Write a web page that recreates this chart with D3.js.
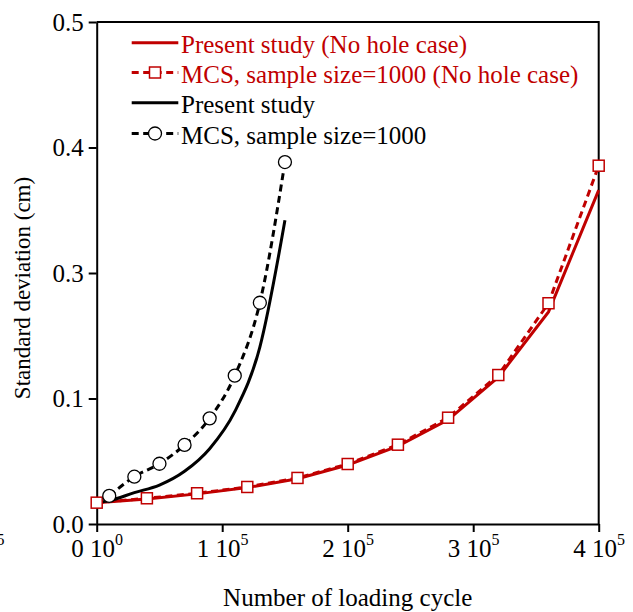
<!DOCTYPE html>
<html>
<head>
<meta charset="utf-8">
<script src="https://cdn.jsdelivr.net/npm/d3@7"></script>
<style>
  html, body { margin: 0; padding: 0; background: #fff; }
  svg { display: block; }
  svg text { font-family: "Liberation Serif", "Times New Roman", serif; }
</style>
</head>
<body>
<svg id="chart" width="633" height="612"></svg>
<script>
// loading cycles and standard deviation values
const redX = [0, 4e4, 8e4, 1.2e5, 1.6e5, 2e5, 2.4e5, 2.8e5, 3.2e5, 3.6e5, 4e5];
const redPresent = [0.017, 0.020, 0.024, 0.029, 0.036, 0.047, 0.062, 0.083, 0.117, 0.169, 0.266];
const redMcs = [0.017, 0.0205, 0.0245, 0.0295, 0.0367, 0.0478, 0.0632, 0.0847, 0.1187, 0.1759, 0.2855];

const blackPresentX = [0, 1e4, 3e4, 5e4, 7e4, 9e4, 1.1e5, 1.3e5, 1.5e5];
const blackPresent = [0.017, 0.0186, 0.025, 0.031, 0.042, 0.060, 0.0895, 0.141, 0.242];
const blackMcsX = [1e4, 3e4, 5e4, 7e4, 9e4, 1.1e5, 1.3e5, 1.5e5];
const blackMcs = [0.0224, 0.0377, 0.048, 0.063, 0.0842, 0.1182, 0.1763, 0.2884];

// tick labels as printed in the figure
const yTickValues = [0, 0.1, 0.2, 0.3, 0.4];
const yTickLabels = ["0.0", "0.1", "0.3", "0.4", "0.5"];
const xTickValues = [-1e5, 0, 1e5, 2e5, 3e5, 4e5];
const xTickMantissa = ["\u22121", "0", "1", "2", "3", "4"];
const xTickExponent = ["5", "0", "5", "5", "5", "5"];

const legendLabels = [
  "Present study (No hole case)",
  "MCS, sample size=1000 (No hole case)",
  "Present study",
  "MCS, sample size=1000"
];

const red = "#c00000";
const serif = '"Liberation Serif", "Times New Roman", serif';
const margin = { top: 22, left: 96.7 };
const width = 502, height = 502;

const svg = d3.select("#chart");
const g = svg.append("g").attr("transform", `translate(${margin.left},${margin.top})`);

const x = d3.scaleLinear().domain([0, 4e5]).range([0, width]);
const y = d3.scaleLinear().domain([0, 0.4]).range([height, 0]);

// frame top / right
g.append("path")
  .attr("d", `M0,0H${width}V${height}`)
  .attr("fill", "none").attr("stroke", "#000").attr("stroke-width", 2);

const yAxis = g.append("g")
  .call(d3.axisLeft(y).tickValues(yTickValues).tickSize(8).tickSizeOuter(0).tickPadding(5)
    .tickFormat((d, i) => yTickLabels[i]));
yAxis.selectAll("text").attr("font-size", 25).attr("fill", "#000");

const xAxis = g.append("g")
  .attr("transform", `translate(0,${height})`)
  .call(d3.axisBottom(x).tickValues(xTickValues).tickSize(8).tickSizeOuter(0).tickPadding(7)
    .tickFormat(() => ""));
xAxis.selectAll(".tick text").each(function (d, i) {
  const t = d3.select(this).attr("font-size", 25).attr("fill", "#000");
  t.append("tspan").text(xTickMantissa[i] + " 10");
  t.append("tspan").attr("font-size", 16).attr("dy", "-0.75em").text(xTickExponent[i]);
});

[yAxis, xAxis].forEach(a => {
  a.attr("font-family", serif);
  a.selectAll("text").attr("font-family", serif);
  a.selectAll("path, line").attr("stroke", "#000").attr("stroke-width", 2);
});

// axis titles
svg.append("text")
  .attr("x", margin.left + width / 2).attr("y", 606)
  .attr("text-anchor", "middle").attr("font-size", 25).attr("font-family", serif)
  .text("Number of loading cycle");
svg.append("text")
  .attr("transform", "translate(30,288) rotate(-90)")
  .attr("text-anchor", "middle").attr("font-size", 23).attr("font-family", serif)
  .text("Standard deviation (cm)");

const zip = (xs, ys) => xs.map((v, i) => [v, ys[i]]);

const series = [
  { pts: zip(redX, redPresent), color: red, dash: null, curve: d3.curveLinear },
  { pts: zip(redX, redMcs), color: red, dash: "7,4.5", curve: d3.curveLinear },
  { pts: zip(blackPresentX, blackPresent), color: "#000", dash: null, curve: d3.curveMonotoneX },
  { pts: zip(blackMcsX, blackMcs), color: "#000", dash: "7,4.5", curve: d3.curveMonotoneX }
];

series.forEach(s => {
  const line = d3.line().x(d => x(d[0])).y(d => y(d[1])).curve(s.curve);
  g.append("path")
    .attr("d", line(s.pts))
    .attr("fill", "none")
    .attr("stroke", s.color)
    .attr("stroke-width", 3)
    .attr("stroke-dasharray", s.dash);
});

g.selectAll(".sq").data(zip(redX, redMcs)).join("rect")
  .attr("x", d => x(d[0]) - 5.5).attr("y", d => y(d[1]) - 5.5)
  .attr("width", 11).attr("height", 11)
  .attr("fill", "#fff").attr("stroke", red).attr("stroke-width", 1.5);

g.selectAll(".ci").data(zip(blackMcsX, blackMcs)).join("circle")
  .attr("cx", d => x(d[0])).attr("cy", d => y(d[1])).attr("r", 6.5)
  .attr("fill", "#fff").attr("stroke", "#000").attr("stroke-width", 1.3);

// legend
const legend = svg.append("g");
const rowY = [42.7, 72.5, 102.7, 133.5];
const legendColors = [red, red, "#000", "#000"];
legendLabels.forEach((lab, i) => {
  const ry = rowY[i];
  legend.append("line")
    .attr("x1", 131.7).attr("x2", 178.3).attr("y1", ry).attr("y2", ry)
    .attr("stroke", legendColors[i]).attr("stroke-width", 3)
    .attr("stroke-dasharray", i % 2 === 1 ? "7,4.5" : null);
  if (i === 1) {
    legend.append("rect").attr("x", 155 - 5.5).attr("y", ry - 5.5)
      .attr("width", 11).attr("height", 11)
      .attr("fill", "#fff").attr("stroke", red).attr("stroke-width", 1.5);
  }
  if (i === 3) {
    legend.append("circle").attr("cx", 155).attr("cy", ry).attr("r", 6.5)
      .attr("fill", "#fff").attr("stroke", "#000").attr("stroke-width", 1.3);
  }
  legend.append("text")
    .attr("x", 181).attr("y", ry + 10.5)
    .attr("font-size", 25).attr("font-family", serif).attr("fill", legendColors[i])
    .text(lab);
});
</script>
</body>
</html>
